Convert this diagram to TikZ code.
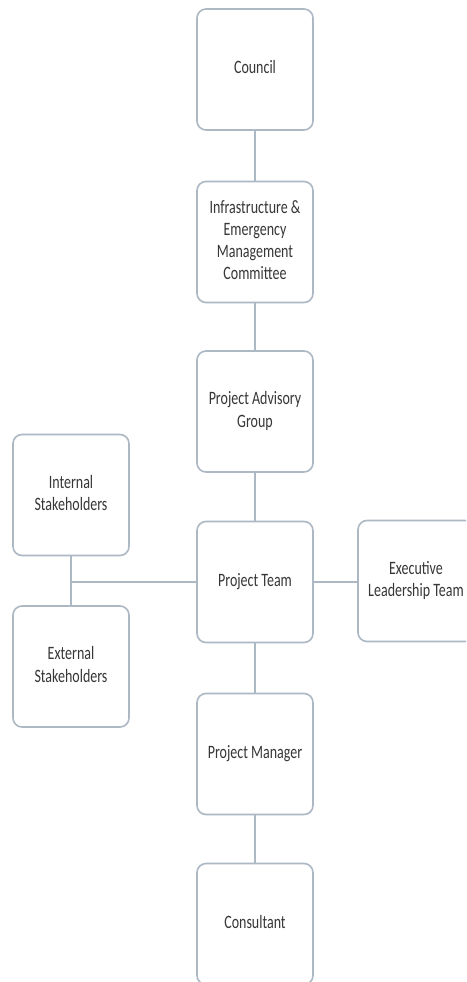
\documentclass[tikz,border=0pt]{standalone}
\usepackage{fontspec}
\setmainfont{Carlito}
\usepackage{graphicx}
\definecolor{boxline}{RGB}{172,184,196}
\definecolor{txt}{RGB}{55,55,55}
\newcommand{\stretchtxt}[1]{\scalebox{1}[1.35]{\begin{tabular}{@{}c@{}}#1\end{tabular}}}
\tikzset{
  orgbox/.style={draw=boxline, line width=1.6pt, rounded corners=9pt, fill=white,
    minimum width=116pt, minimum height=121pt, inner sep=0pt,
    font=\fontsize{14}{16.5}\selectfont, text=txt, align=center},
  link/.style={draw=boxline, line width=1.6pt}
}
\begin{document}
\begin{tikzpicture}[x=1pt,y=-1pt]
\useasboundingbox (0,0) rectangle (466,982);
\clip (0,0) rectangle (466,982);
\fill[white] (0,0) rectangle (466,982);
\node[orgbox] (council) at (255,69.5) {\stretchtxt{Council}};
\node[orgbox] (infra) at (255,242) {\stretchtxt{Infrastructure \&\\Emergency\\Management\\Committee}};
\node[orgbox] (pag) at (255,411.5) {\stretchtxt{Project Advisory\\Group}};
\node[orgbox] (pt) at (255,582) {\stretchtxt{Project Team}};
\node[orgbox] (pm) at (255,754) {\stretchtxt{Project Manager}};
\node[orgbox] (cons) at (255,924) {\stretchtxt{Consultant}};
\node[orgbox] (int) at (71,495) {\stretchtxt{Internal\\Stakeholders}};
\node[orgbox] (ext) at (71,666.5) {\stretchtxt{External\\Stakeholders}};
\node[orgbox] (exec) at (416,581) {\stretchtxt{Executive\\Leadership Team}};
\coordinate (junc) at (int.south |- pt.west);
\draw[link] (council) -- (infra);
\draw[link] (infra) -- (pag);
\draw[link] (pag) -- (pt);
\draw[link] (pt) -- (pm);
\draw[link] (pm) -- (cons);
\draw[link] (int) -- (ext);
\draw[link] (pt.west) -- (junc);
\draw[link] (pt.east) -- (exec.west |- pt.east);
\end{tikzpicture}
\end{document}
